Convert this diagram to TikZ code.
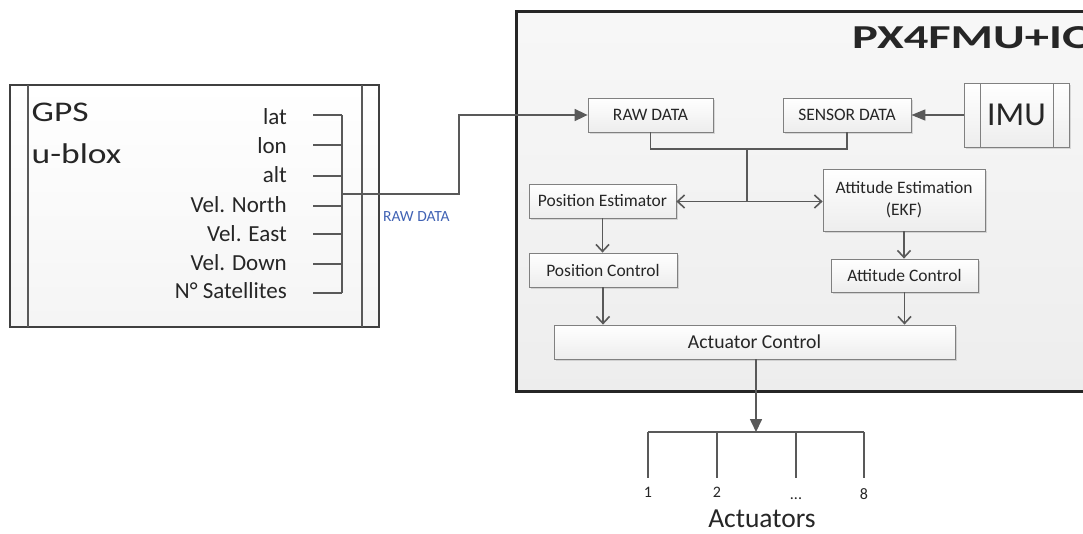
\documentclass[tikz,border=0pt]{standalone}
\usepackage{fontspec}
\setmainfont{Carlito}
\usetikzlibrary{arrows.meta,shadows,calc}
\definecolor{ln}{HTML}{595959}
\definecolor{bd}{HTML}{808080}
\definecolor{tx}{HTML}{262626}
\definecolor{rawblue}{HTML}{4062B4}
\definecolor{gpsline}{HTML}{404040}
\tikzset{
  box/.style={draw=bd, line width=0.8pt, top color=white, bottom color=black!7,
    inner sep=0pt, align=center, text=tx, font=\fontsize{17.5}{22}\selectfont,
    drop shadow={shadow xshift=1.5pt, shadow yshift=-1.5pt, fill=black, opacity=0.12}},
  conn/.style={draw=ln, line width=1.6pt},
  fillarrow/.style={conn, -{Triangle[length=13pt,width=12pt]}},
  openarrow/.style={conn, -{Straight Barb[length=7pt,width=13pt]}},
  bothopen/.style={conn, {Straight Barb[length=7pt,width=13pt]}-{Straight Barb[length=7pt,width=13pt]}},
  gpsitem/.style={anchor=base east, inner sep=0pt, text=tx, font=\fontsize{23}{28}\selectfont},
  gpsline/.style={draw=ln, line width=1.4pt},
  actlabel/.style={anchor=base, inner sep=0pt, text=tx, font=\fontsize{16}{19}\selectfont}
}
\begin{document}
\begin{tikzpicture}[x=1pt,y=-1pt]
\useasboundingbox (0,0) rectangle (1083,533);
\fill[white] (0,0) rectangle (1083,533);
\begin{scope}
\clip (0,0) rectangle (1083,533);
% PX4 main box
\node[draw=black!85, line width=3pt, top color=black!3, bottom color=black!7,
  minimum width=590pt, minimum height=380.5pt, anchor=north west, inner sep=0pt] (px4) at (515,9.5) {};
\node[anchor=base west, inner sep=0pt, text=tx, font=\fontsize{33.5}{40}\selectfont\bfseries] (title) at (852,48) {\scalebox{1.45}[1]{PX4FMU+IO}};
\end{scope}

% GPS box
\node[draw=gpsline, line width=1.2pt, top color=white, bottom color=black!4,
  minimum width=369pt, minimum height=242pt, inner sep=0pt] (gps) at (194.5,206) {};
\draw[gpsline, line width=1.2pt] (28,85) -- (28,327) (362,85) -- (362,327);
\node[anchor=base west, inner sep=0pt, text=tx, font=\fontsize{28.5}{34}\selectfont] (gpst) at (31.5,121.7) {\scalebox{1.245}[1]{GPS}};
\node[anchor=base west, inner sep=0pt, text=tx, font=\fontsize{28.5}{34}\selectfont] (ublox) at (31.5,163.3) {\scalebox{1.245}[1]{u-blox}};

\node[gpsitem] (lat) at (287,124) {lat};
\node[gpsitem] (lon) at (287,153) {lon};
\node[gpsitem] (alt) at (287,182) {alt};
\node[gpsitem] (vn) at (287,212) {Vel. North};
\node[gpsitem] (ve) at (287,241) {Vel. East};
\node[gpsitem] (vd) at (287,270) {Vel. Down};
\node[gpsitem] (ns) at (287,298) {N° Satellites};

\foreach \n/\y in {a/115,b/145,c/176,d/206,e/234,f/264,g/293}{
  \coordinate (l\n) at (313,\y);
  \coordinate (r\n) at (342,\y);
  \draw[gpsline] (l\n) -- (r\n);
}
\draw[gpsline] (ra) -- (rg);
\coordinate (gj) at (342,194);

% inner boxes
\node[box, minimum width=125pt, minimum height=34pt] (raw) at (650.5,115) {RAW DATA};
\node[box, minimum width=128pt, minimum height=34pt] (sens) at (847,115) {SENSOR DATA};
\node[box, minimum width=105pt, minimum height=64pt, font=\fontsize{33.5}{40}\selectfont] (imu) at (1016.5,115) {IMU};
\draw[draw=bd, line width=0.8pt] (980,83) -- (980,147) (1053,83) -- (1053,147);
\node[box, minimum width=147pt, minimum height=34pt] (pe) at (602.5,201) {Position Estimator};
\node[box, minimum width=162pt, minimum height=62pt] (ae) at (904,200) {Attitude Estimation\\(EKF)};
\node[box, minimum width=148pt, minimum height=34pt] (pc) at (603,270) {Position Control};
\node[box, minimum width=147pt, minimum height=33pt] (ac) at (904.5,275.5) {Attitude Control};
\node[box, minimum width=401pt, minimum height=34pt, font=\fontsize{19.7}{24}\selectfont] (act) at (754.5,342) {Actuator Control};

% GPS -> RAW DATA
\draw[fillarrow] (gj) -- (459,194) -- (459,115) -- (raw.west);
\node[anchor=base west, inner sep=0pt, text=rawblue, font=\fontsize{15.5}{18}\selectfont] (rawlbl) at (383,221.7) {RAW DATA};

% IMU -> SENSOR
\draw[conn, -{Triangle[length=14pt,width=11pt]}] (imu.west) -- (sens.east);

% data merge
\coordinate (jt) at (747,149);
\coordinate (jc) at (747,201.5);
\draw[conn] (raw.south) |- (jt) -| (sens.south);
\draw[conn] (jt) -- (jc);
\draw[openarrow] (jc) -- (pe.east |- jc);
\draw[openarrow] (jc) -- (ae.west |- jc);

% estimators -> controls
\draw[openarrow] (pe.south) -- (pe.south |- pc.north);
\draw[openarrow] (ae.south) -- (ae.south |- ac.north);
\draw[openarrow] (pc.south) -- (pc.south |- act.north);
\draw[openarrow] (ac.south) -- (ac.south |- act.north);

% actuators
\coordinate (bus) at (756,432);
\coordinate (b1) at (648,432);
\coordinate (b8) at (864,432);
\draw[fillarrow] (act.south -| bus) -- (bus);
\draw[conn] (b1) -- (b8);
\foreach \n/\x in {1/648,2/717,3/796,4/864}{
  \coordinate (t\n) at (\x,432);
  \coordinate (e\n) at (\x,478);
  \draw[conn] (t\n) -- (e\n);
}
\node[actlabel] (a1) at (648,497) {1};
\node[actlabel] (a2) at (717,497) {2};
\node[actlabel] (a3) at (796,499) {...};
\node[actlabel] (a4) at (864,499) {8};
\node[anchor=base, inner sep=0pt, text=tx, font=\fontsize{27.5}{33}\selectfont] (acts) at (762,527) {Actuators};
\end{tikzpicture}
\end{document}
